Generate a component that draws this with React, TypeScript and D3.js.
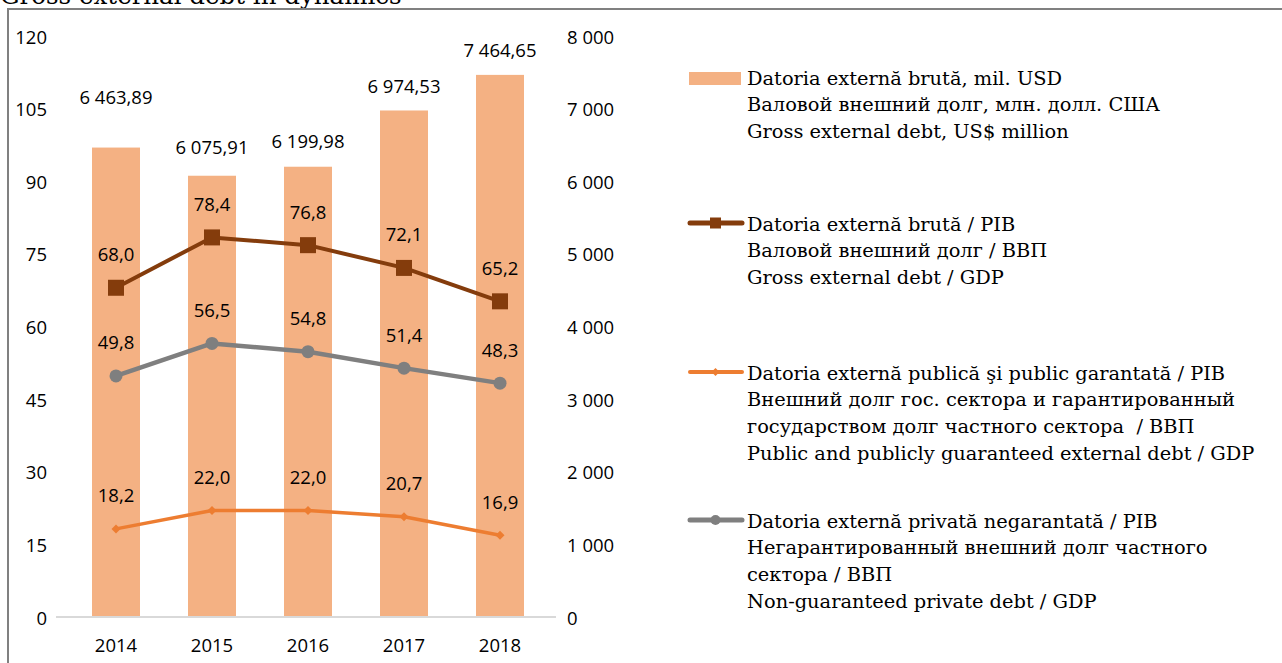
import React from "react";
import * as d3 from "d3";

const years = ["2014", "2015", "2016", "2017", "2018"];
const grossDebtUSD = [6463.89, 6075.91, 6199.98, 6974.53, 7464.65];
const grossDebtLabels = ["6 463,89", "6 075,91", "6 199,98", "6 974,53", "7 464,65"];
const grossDebtGDP = [68.0, 78.4, 76.8, 72.1, 65.2];
const publicDebtGDP = [18.2, 22.0, 22.0, 20.7, 16.9];
const privateDebtGDP = [49.8, 56.5, 54.8, 51.4, 48.3];
const leftTicks = [0, 15, 30, 45, 60, 75, 90, 105, 120];
const rightTicks = [0, 1000, 2000, 3000, 4000, 5000, 6000, 7000, 8000];
const barLabelLift = [26, 4, 1, 0, 0];

const legendItems = [
  { kind: "bar", color: "#F4B183", lines: ["Datoria externă brută, mil. USD", "Валовой внешний долг, млн. долл. США", "Gross external debt, US$ million"] },
  { kind: "square", color: "#843C0C", lines: ["Datoria externă brută / PIB", "Валовой внешний долг / ВВП", "Gross external debt / GDP"] },
  { kind: "diamond", color: "#ED7D31", lines: ["Datoria externă publică şi public garantată / PIB", "Внешний долг гос. сектора и гарантированный", "государством долг частного сектора  / ВВП", "Public and publicly guaranteed external debt / GDP"] },
  { kind: "circle", color: "#7F7F7F", lines: ["Datoria externă privată negarantată / PIB", "Негарантированный внешний долг частного", "сектора / ВВП", "Non-guaranteed private debt / GDP"] },
];
const legendTops = [78, 224, 373, 521];

const fmt1 = (v: number) => v.toFixed(1).replace(".", ",");
const fmtK = (v: number) => (v === 0 ? "0" : d3.format(",")(v).replace(/,/g, " "));

export default function App() {
  const W = 1282, H = 663;
  const x = d3.scaleBand<string>().domain(years).range([68, 548]).paddingInner(0.5).paddingOuter(0.25);
  const yL = d3.scaleLinear().domain([0, 120]).range([617, 36]);
  const yR = d3.scaleLinear().domain([0, 8000]).range([617, 36]);
  const cx = (y: string) => (x(y) as number) + x.bandwidth() / 2;
  const line = (vals: number[]) =>
    d3.line<number>().x((_, i) => cx(years[i])).y((v) => yL(v))(vals) as string;

  const numFont = "'Open Sans', 'Noto Sans', sans-serif";
  const serif = "'DejaVu Serif', serif";

  return (
    <div style={{ position: "absolute", left: 0, top: 0 }}>
      <svg width={W} height={H} style={{ display: "block" }}>
        <rect x={0} y={0} width={W} height={H} fill="#fff" />
        <text x={0} y={4} fontFamily={serif} fontSize={24.5} fill="#000">Gross external debt in dynamics</text>
        <path d={`M8,${H} V9 H${W}`} fill="none" stroke="#808080" strokeWidth={2} />

        {grossDebtUSD.map((v, i) => (
          <rect key={years[i]} x={x(years[i])} y={yR(v)} width={x.bandwidth()} height={yR(0) - yR(v)} fill="#F4B183" />
        ))}
        <line x1={56} x2={556} y1={yL(0)} y2={yL(0)} stroke="#D9D9D9" strokeWidth={2} />

        {leftTicks.map((t) => (
          <text key={"l" + t} x={47} y={yL(t)} textAnchor="end" dominantBaseline="central" fontFamily={numFont} fontSize={18.5} fill="#000">{t}</text>
        ))}
        {rightTicks.map((t) => (
          <text key={"r" + t} x={567} y={yR(t)} textAnchor="start" dominantBaseline="central" fontFamily={numFont} fontSize={18.5} fill="#000">{fmtK(t)}</text>
        ))}
        {years.map((yv) => (
          <text key={"x" + yv} x={cx(yv)} y={644} textAnchor="middle" dominantBaseline="central" fontFamily={numFont} fontSize={18.5} fill="#000">{yv}</text>
        ))}

        {grossDebtUSD.map((v, i) => (
          <text key={"bl" + i} x={cx(years[i])} y={yR(v) - 25 - barLabelLift[i]} textAnchor="middle" dominantBaseline="central" fontFamily={numFont} fontSize={18.5} fill="#000">{grossDebtLabels[i]}</text>
        ))}

        <path d={line(grossDebtGDP)} fill="none" stroke="#843C0C" strokeWidth={4} strokeLinejoin="round" />
        <path d={line(privateDebtGDP)} fill="none" stroke="#7F7F7F" strokeWidth={4.5} strokeLinejoin="round" />
        <path d={line(publicDebtGDP)} fill="none" stroke="#ED7D31" strokeWidth={3.5} strokeLinejoin="round" />

        {grossDebtGDP.map((v, i) => (
          <rect key={"sq" + i} x={cx(years[i]) - 8} y={yL(v) - 8} width={16} height={16} fill="#843C0C" />
        ))}
        {privateDebtGDP.map((v, i) => (
          <circle key={"c" + i} cx={cx(years[i])} cy={yL(v)} r={6.5} fill="#7F7F7F" />
        ))}
        {publicDebtGDP.map((v, i) => (
          <path key={"d" + i} d={`M${cx(years[i])},${yL(v) - 4.5} l4.5,4.5 l-4.5,4.5 l-4.5,-4.5 Z`} fill="#ED7D31" />
        ))}

        {[grossDebtGDP, privateDebtGDP, publicDebtGDP].map((series, si) =>
          series.map((v, i) => (
            <text key={"ll" + si + "-" + i} x={cx(years[i])} y={yL(v) - 34} textAnchor="middle" dominantBaseline="central" fontFamily={numFont} fontSize={18.5} fill="#000">{fmt1(v)}</text>
          ))
        )}

        {legendItems.map((item, k) => {
          const top = legendTops[k];
          let sym: React.ReactNode = null;
          if (item.kind === "bar") sym = <rect x={689} y={top - 6} width={52} height={13} fill={item.color} />;
          else {
            const ly = top - 1;
            sym = (
              <g>
                <line x1={690} x2={742} y1={ly} y2={ly} stroke={item.color} strokeWidth={item.kind === "diamond" ? 4 : 5} strokeLinecap="round" />
                {item.kind === "square" && <rect x={710} y={ly - 5.5} width={11} height={11} fill={item.color} />}
                {item.kind === "circle" && <circle cx={715.5} cy={ly} r={5} fill={item.color} />}
                {item.kind === "diamond" && <path d={`M715.5,${ly - 4} l4,4 l-4,4 l-4,-4 Z`} fill={item.color} />}
              </g>
            );
          }
          return (
            <g key={"lg" + k}>
              {sym}
              {item.lines.map((t, j) => (
                <text key={j} x={747} y={top + j * 26.8} dominantBaseline="central" fontFamily={serif} fontSize={19.4} fill="#000" style={{ whiteSpace: "pre" }}>{t}</text>
              ))}
            </g>
          );
        })}
      </svg>
    </div>
  );
}
